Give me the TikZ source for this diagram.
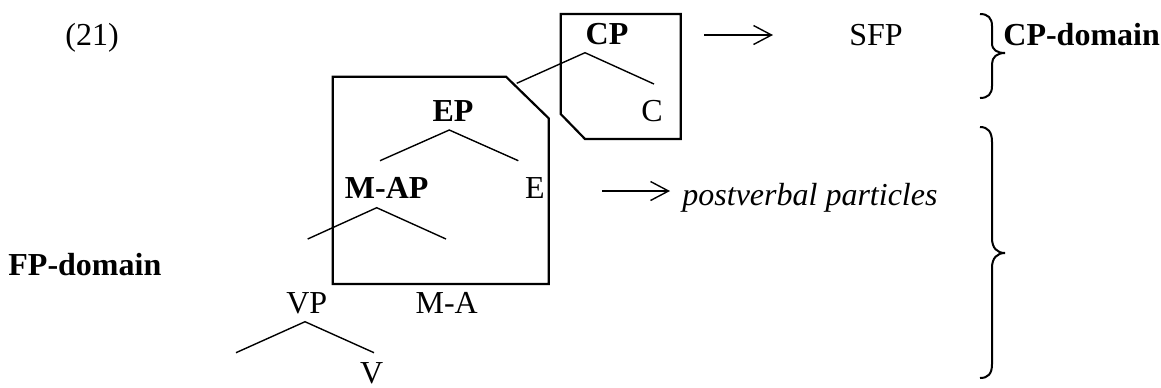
\documentclass[tikz,border=0pt]{standalone}
\usepackage{fontspec}
\setmainfont{Liberation Serif}
\usetikzlibrary{arrows.meta}
\begin{document}
\begin{tikzpicture}[x=0.5pt,y=-0.5pt,
  lbl/.style={font=\fontsize{16}{19}\selectfont, inner sep=0pt, anchor=base},
  lblw/.style={lbl, anchor=base west},
  branch/.style={line width=0.7pt},
  boxline/.style={line width=1.1pt, line join=miter},
  arr/.style={line width=0.7pt, -{Straight Barb[length=9pt,width=9.5pt,line width=0.7pt]}},
  brace/.style={line width=1pt}]
\useasboundingbox (0,0) rectangle (1161,387);
% labels
\node[lblw] (n21) at (65,45) {(21)};
\node[lbl] (CP) at (607,44) {\textbf{CP}};
\node[lbl] (C) at (652,121) {C};
\node[lbl] (EP) at (453,121.5) {\textbf{EP}};
\node[lbl] (MAP) at (386.7,198) {\textbf{M-AP}};
\node[lbl] (E) at (535,198) {E};
\node[lbl] (VP) at (306.7,313) {VP};
\node[lbl] (MA) at (446.7,313) {M-A};
\node[lbl] (V) at (371.7,383) {V};
\node[lbl] (SFP) at (876,45) {SFP};
\node[lblw] (CPdom) at (1003,45) {\textbf{CP-domain}};
\node[lblw] (FPdom) at (8,275) {\textbf{FP-domain}};
\node[lblw] (post) at (682,205) {\textit{postverbal particles}};
% tree coordinates
\coordinate (cpA) at (585,52.7);
\coordinate (cpL) at (516.7,83.3);
\coordinate (cpR) at (654,84);
\coordinate (epA) at (449.3,130);
\coordinate (epL) at (380,160.7);
\coordinate (epR) at (518.3,160.7);
\coordinate (maA) at (376.7,207.7);
\coordinate (maL) at (307.7,239);
\coordinate (maR) at (446,239);
\coordinate (vpA) at (305,321.7);
\coordinate (vpL) at (236,352.7);
\coordinate (vpR) at (374,352.7);
\draw[branch] (cpL) -- (cpA) -- (cpR);
\draw[branch] (epL) -- (epA) -- (epR);
\draw[branch] (maL) -- (maA) -- (maR);
\draw[branch] (vpL) -- (vpA) -- (vpR);
% boxes
\draw[boxline] (560.7,14) -- (680.7,14) -- (680.7,139) -- (585,139) -- (560.7,114) -- cycle;
\draw[boxline] (332.7,76.7) -- (506,76.7) -- (548.7,118.3) -- (548.7,284) -- (332.7,284) -- cycle;
% arrows
\coordinate (a1s) at (704,35);
\coordinate (a1e) at (773,35);
\draw[arr] (a1s) -- (a1e);
\coordinate (a2s) at (602,191);
\coordinate (a2e) at (670,191);
\draw[arr] (a2s) -- (a2e);
% braces
\draw[brace] (980,14) .. controls (988,14) and (992,18) .. (992,26) -- (992,43)
  .. controls (992,50) and (997,53) .. (1005,53)
  .. controls (997,53) and (992,57) .. (992,64) -- (992,86)
  .. controls (992,94) and (988,98) .. (980,98);
\draw[brace] (980,127) .. controls (988,127) and (992,132) .. (992,142) -- (992,238)
  .. controls (992,248) and (997,253) .. (1005,253)
  .. controls (997,253) and (992,258) .. (992,268) -- (992,364)
  .. controls (992,374) and (988,378) .. (980,378);
\end{tikzpicture}
\end{document}
